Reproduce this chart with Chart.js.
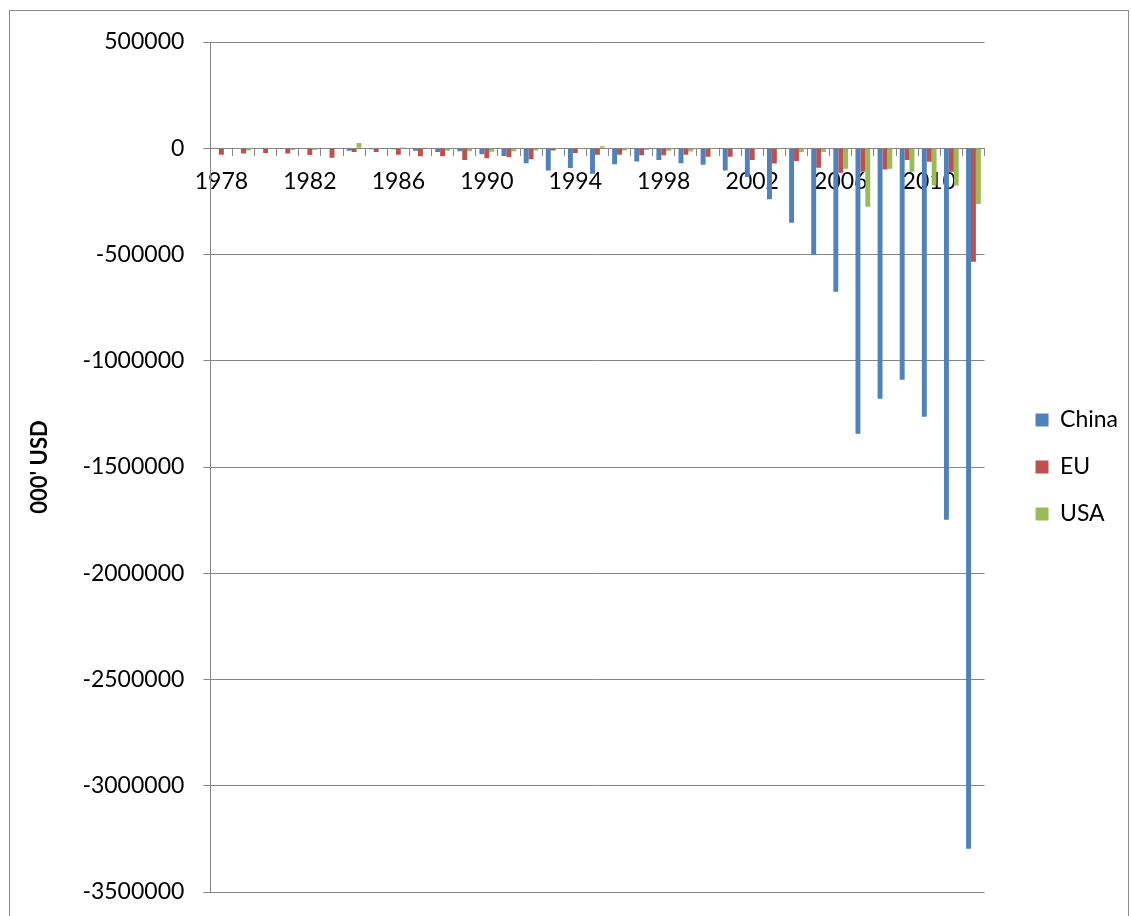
<!DOCTYPE html>
<html>
<head>
<meta charset="utf-8">
<script src="https://cdn.jsdelivr.net/npm/chart.js@4.4.1/dist/chart.umd.min.js"></script>
<style>
  html, body { margin: 0; padding: 0; background: #ffffff; }
  #frame { position: absolute; left: 9px; top: 10px; width: 1118px; height: 940px; border: 1px solid #8c8c8c; }
  #wrap { position: absolute; left: 0; top: 0; width: 1131px; height: 916px; }
</style>
</head>
<body>
<div id="frame"></div>
<div id="wrap"><canvas id="chart" width="1131" height="916"></canvas></div>
<script>
// Trade balance by year, thousands of USD
const years = ['1978','1979','1980','1981','1982','1983','1984','1985','1986','1987',
               '1988','1989','1990','1991','1992','1993','1994','1995','1996','1997',
               '1998','1999','2000','2001','2002','2003','2004','2005','2006','2007',
               '2008','2009','2010','2011','2012'];

const chinaValues = [0, 0, 0, 0, 0, 0, -12000, -5000, -5000, -12000,
                     -18000, -14000, -28000, -37000, -70000, -105000, -93000, -120000, -75000, -62000,
                     -55000, -70000, -78000, -105000, -135000, -240000, -350000, -501000, -675000, -1343000,
                     -1179000, -1089000, -1263000, -1748000, -3296000];

const euValues = [-30000, -25000, -22000, -25000, -32000, -45000, -18000, -18000, -30000, -38000,
                  -38000, -55000, -47000, -42000, -52000, -10000, -22000, -30000, -30000, -33000,
                  -33000, -30000, -40000, -40000, -55000, -72000, -60000, -92000, -115000, -110000,
                  -100000, -55000, -63000, -110000, -534000];

const usaValues = [0, -10000, 0, -8000, -7000, 0, 25000, 0, 5000, 3000,
                   -12000, -14000, -16000, -14000, -10000, -3000, -3000, 10000, -10000, -8000,
                   -12000, -15000, -3000, -3000, -5000, -5000, -18000, -18000, -97000, -275000,
                   -97000, -110000, -175000, -175000, -262000];

// Years that carry a printed label on the category axis
const labelledYears = ['1978','1982','1986','1990','1994','1998','2002','2006','2010'];

// Value axis range and step
const yMin = -3500000;
const yMax = 500000;
const yStep = 500000;

const seriesNames = ['China', 'EU', 'USA'];

const FONT = 'Lato, "Liberation Sans", sans-serif';
const AXIS_GREY = '#868686';

new Chart(document.getElementById('chart'), {
  type: 'bar',
  data: {
    labels: years,
    datasets: [
      { label: seriesNames[0], data: chinaValues, backgroundColor: '#4F81BD' },
      { label: seriesNames[1], data: euValues, backgroundColor: '#C0504D' },
      { label: seriesNames[2], data: usaValues, backgroundColor: '#9BBB59' }
    ]
  },
  options: {
    responsive: false,
    animation: false,
    devicePixelRatio: 1,
    datasets: { bar: { categoryPercentage: 0.667, barPercentage: 1.0 } },
    layout: { padding: { left: 27, right: 3, top: 42, bottom: 24 } },
    plugins: {
      legend: {
        position: 'right',
        labels: {
          boxWidth: 13,
          boxHeight: 13,
          padding: 24,
          color: '#000000',
          font: { family: FONT, size: 23 }
        }
      },
      tooltip: { enabled: false }
    },
    scales: {
      x: {
        position: { y: 0 },
        grid: { drawOnChartArea: false, drawTicks: true, tickLength: 7, color: AXIS_GREY, offset: true },
        border: { color: AXIS_GREY, width: 1 },
        ticks: {
          autoSkip: false,
          maxRotation: 0,
          minRotation: 0,
          padding: 13,
          color: '#000000',
          font: { family: FONT, size: 23 },
          callback: function (value, index) {
            const y = years[index];
            return labelledYears.includes(y) ? y : '';
          }
        }
      },
      y: {
        min: yMin,
        max: yMax,
        grid: { color: AXIS_GREY, tickLength: 7, drawTicks: true },
        border: { color: AXIS_GREY, width: 1 },
        ticks: {
          stepSize: yStep,
          padding: 19,
          color: '#000000',
          font: { family: FONT, size: 23 },
          callback: function (value) { return String(value); }
        },
        title: {
          display: true,
          text: "000' USD",
          color: '#000000',
          padding: { top: 0, bottom: 10 },
          font: { family: FONT, size: 22, weight: 'bold' }
        },
        // only half a label height is needed above and below the plot
        afterFit: function (scale) {
          scale.paddingTop = 14;
          scale.paddingBottom = 14;
        }
      },
      // empty gutter between the plot and the legend
      gutter: {
        type: 'linear',
        position: 'right',
        display: true,
        grid: { display: false },
        border: { display: false },
        ticks: { display: false },
        afterFit: function (scale) { scale.width = 27; }
      }
    }
  }
});
</script>
</body>
</html>
